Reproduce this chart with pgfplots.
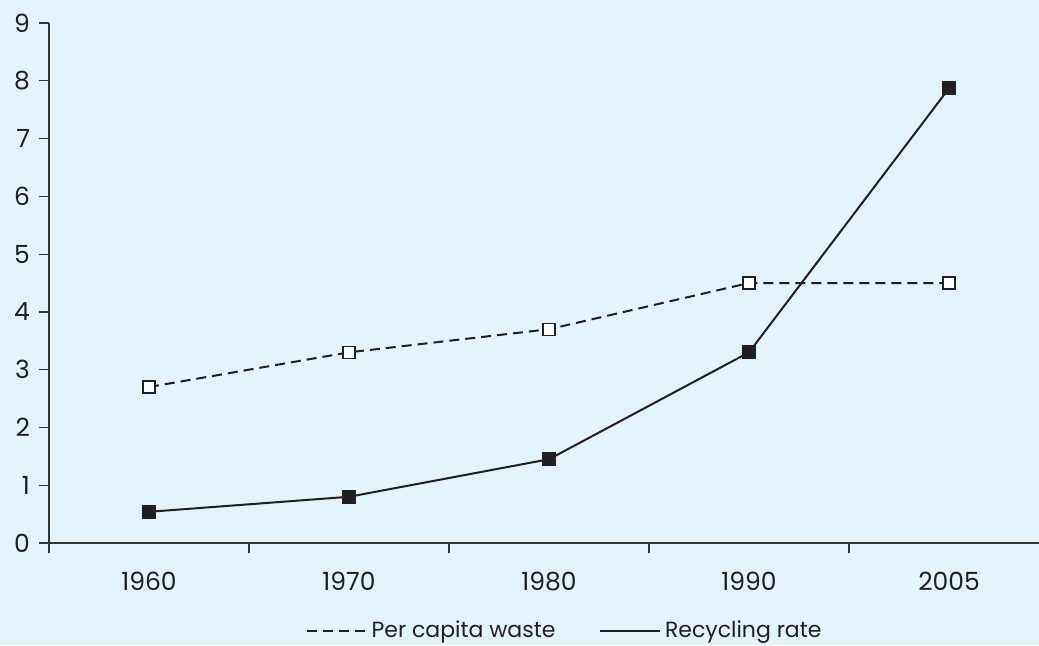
\documentclass[border=0pt]{standalone}
\usepackage{fontspec}
\setmainfont{Poppins}
\usepackage{pgfplots}
\pgfplotsset{compat=1.18}
\definecolor{bg}{HTML}{E2F3FC}
\definecolor{ink}{HTML}{231F20}
\definecolor{axc}{HTML}{333333}
\begin{document}
\begin{tikzpicture}
\fill[bg] (0,0) rectangle (519.5pt,322.5pt);
\useasboundingbox (0,0) rectangle (519.5pt,322.5pt);
\begin{axis}[
  at={(24.5pt,51pt)}, anchor=south west,
  scale only axis, width=495pt, height=260pt,
  xmin=-0.5, xmax=4.45, ymin=0, ymax=9,
  axis lines=left, axis line style={draw=axc, line width=0.6pt, -},
  xtick={0,1,2,3,4}, xticklabels={1960,1970,1980,1990,2005},
  major x tick style={draw=none},
  minor xtick={-0.5,0.5,1.5,2.5,3.5},
  minor tick length=5pt, major tick length=5pt,
  tick align=outside,
  tick style={draw=axc, line width=0.6pt},
  ytick={0,...,9},
  font=\fontsize{12.5}{14}\selectfont,
  xticklabel style={yshift=-6pt, text=ink},
  yticklabel style={xshift=-1pt, text=ink},
  /pgf/number format/assume math mode=true,
  clip=false,
  legend columns=2,
  legend style={at={(0.522,0)}, anchor=center, yshift=-44pt, draw=none, fill=none,
    font=\fontsize{11}{13}\selectfont, text=ink,
    /tikz/every even column/.append style={column sep=20pt}},
  legend image code/.code={\draw[#1, mark=none, line width=0.8pt] (0cm,0cm) -- (30pt,0cm);},
]
\addplot[ink, line width=1pt, dash pattern=on 5pt off 3pt, mark=square*, mark size=3pt,
  mark options={solid, fill=white, draw=ink, line width=0.6pt}]
  coordinates {(0,2.70) (1,3.30) (2,3.70) (3,4.50) (4,4.50)};
\addlegendentry{Per capita waste}
\addplot[ink, line width=1pt, mark=square*, mark size=3pt,
  mark options={solid, fill=ink, draw=ink}]
  coordinates {(0,0.54) (1,0.80) (2,1.45) (3,3.30) (4,7.87)};
\addlegendentry{Recycling rate}
\end{axis}
\end{tikzpicture}
\end{document}
